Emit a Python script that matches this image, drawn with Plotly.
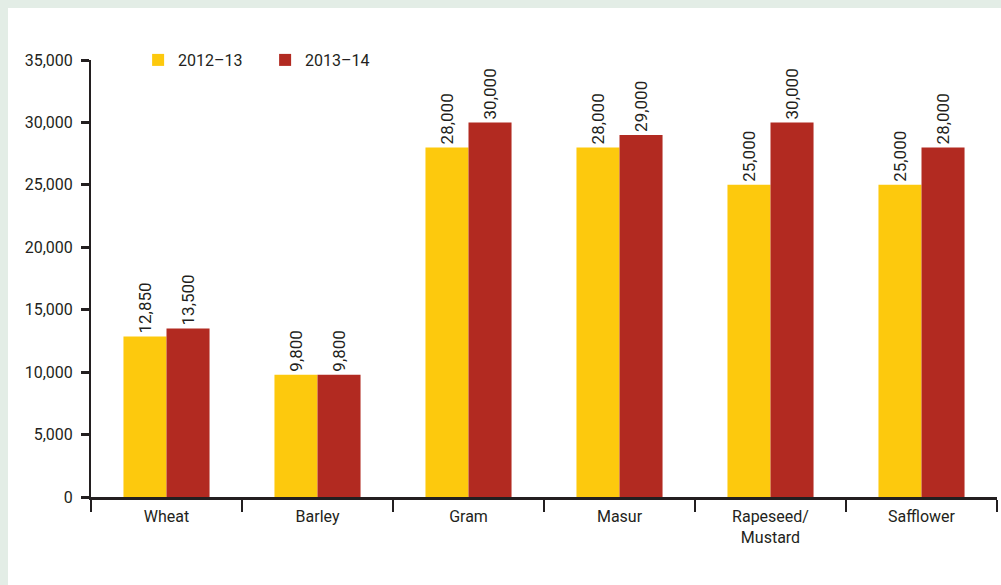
import plotly.graph_objects as go

crops = ["Wheat", "Barley", "Gram", "Masur", "Rapeseed/<br>Mustard", "Safflower"]
season_2012_13 = [12850, 9800, 28000, 28000, 25000, 25000]
season_2013_14 = [13500, 9800, 30000, 29000, 30000, 28000]
y_ticks = [0, 5000, 10000, 15000, 20000, 25000, 30000, 35000]

YELLOW = "#fdc90d"
RED = "#b22a21"
INK = "#231f20"
FONT = "Roboto"

fig = go.Figure()
for name, vals, col in [("2012–13", season_2012_13, YELLOW), ("2013–14", season_2013_14, RED)]:
    fig.add_trace(go.Bar(
        x=crops, y=vals, name=name, marker=dict(color=col, line=dict(width=0)),
        text=[f"{v:,}" for v in vals], textposition="outside", textangle=-90,
        constraintext="none",
        textfont=dict(family=FONT, size=17, color=INK), cliponaxis=False,
    ))

# white panel on the tinted page
fig.add_shape(type="rect", xref="paper", yref="paper",
              x0=-0.0916, x1=1.01, y0=-0.21, y1=1.119,
              fillcolor="white", line=dict(width=0), layer="below")

fig.update_layout(
    width=1001, height=585,
    paper_bgcolor="#e3ede6", plot_bgcolor="rgba(0,0,0,0)",
    margin=dict(l=91, r=4, t=60, b=88),
    barmode="group", bargap=0.43, bargroupgap=0,
    font=dict(family=FONT, size=16, color=INK),
    showlegend=True,
    legend=dict(orientation="h", x=0.052, y=1.0, xanchor="left", yanchor="middle",
                bgcolor="rgba(0,0,0,0)", font=dict(size=16, color=INK),
                itemwidth=30, traceorder="normal", entrywidth=82),
    xaxis=dict(showline=True, linecolor=INK, linewidth=3, ticks="outside",
               tickson="boundaries", ticklen=12, tickwidth=1.5, tickcolor=INK,
               showgrid=False, ticklabelstandoff=3,
               tickfont=dict(size=16, color=INK)),
    yaxis=dict(range=[0, 35000], tickvals=y_ticks, tickformat=",",
               showline=True, linecolor=INK, linewidth=2, ticks="outside",
               ticklen=8, tickwidth=2.5, tickcolor=INK, showgrid=False,
               zeroline=False, ticklabelstandoff=5,
               tickfont=dict(size=16, color=INK)),
)

fig.write_html("out.html")
